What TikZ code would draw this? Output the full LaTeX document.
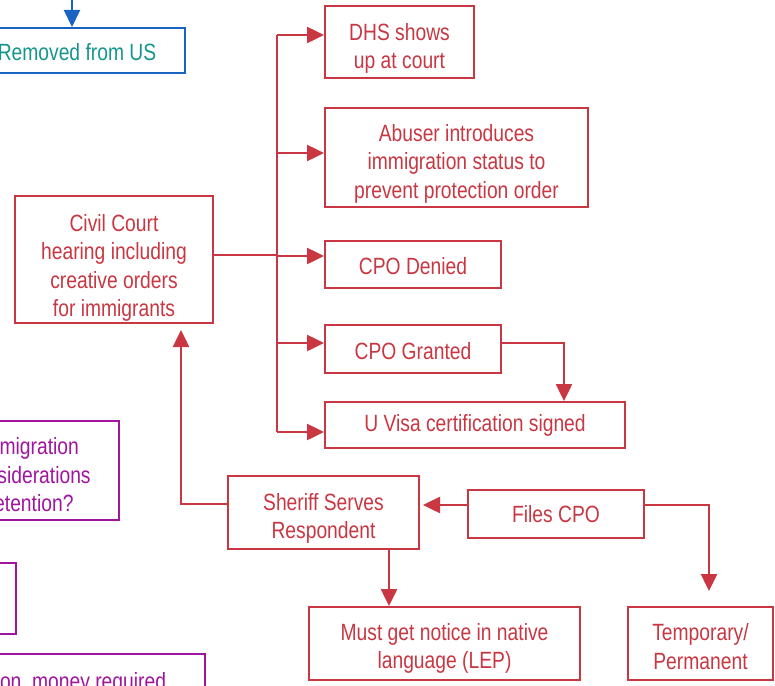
\documentclass[tikz,border=0pt]{standalone}
\usepackage{fontspec}
\setmainfont{Liberation Sans}[FakeStretch=0.82]
\usetikzlibrary{arrows.meta}

\definecolor{cpored}{RGB}{200,55,66}
\definecolor{detpurple}{RGB}{160,20,160}
\definecolor{usblue}{RGB}{25,100,195}
\definecolor{usteal}{RGB}{20,150,140}

\begin{document}
\begin{tikzpicture}[x=1pt,y=-1pt,->,>={Triangle[length=17pt,width=16pt]},line width=2.5pt,
  box/.style={draw,line width=2pt,inner sep=0pt,align=center,font=\fontsize{23.5}{28.5}\selectfont},
  lift/.style={execute at begin node={\rule{0pt}{#1}}},
  red box/.style={box,draw=cpored,text=cpored},
  purple box/.style={box,draw=detpurple,text=detpurple},
  blue box/.style={box,draw=usblue,text=usteal}]

  \useasboundingbox (0,0) rectangle (775,685);
  \clip (0,0) rectangle (775,685);

  % cut-off boxes on the left
  \node[blue box,lift=21pt,minimum width=216pt,minimum height=45pt] (removed) at (77,50.5) {Removed from US};
  \node[purple box,lift=82.8pt,minimum width=181pt,minimum height=99pt] (immig) at (28.5,470.5) {Immigration\\considerations\\detention?};
  \node[purple box,minimum width=192pt,minimum height=71pt] (hold) at (-80,598.5) {};
  \node[purple box,minimum width=305pt,minimum height=100pt,anchor=north] (cost) at (52.5,653) {};
  \node[text=detpurple,font=\fontsize{23.5}{28.5}\selectfont] (costtext) at (52.5,683) {Detention, money required};

  % court side
  \node[red box,lift=119.3pt,minimum width=198pt,minimum height=127pt] (civil) at (114,259.5) {Civil Court\\hearing including\\creative orders\\for immigrants};
  \node[red box,lift=58.3pt,minimum width=149pt,minimum height=72pt] (dhs) at (399.5,42) {DHS shows\\up at court};
  \node[red box,lift=86.8pt,minimum width=263pt,minimum height=99pt] (abuser) at (456.5,157.5) {Abuser introduces\\immigration status to\\prevent protection order};
  \node[red box,lift=21pt,minimum width=176pt,minimum height=47pt] (denied) at (413,264.5) {CPO Denied};
  \node[red box,lift=21pt,minimum width=176pt,minimum height=48pt] (granted) at (413,349) {CPO Granted};
  \node[red box,minimum width=300pt,minimum height=46pt] (uvisa) at (475,425) {U Visa certification signed};

  % filing side
  \node[red box,lift=57.3pt,minimum width=191pt,minimum height=73pt] (sheriff) at (323.5,512.5) {Sheriff Serves\\Respondent};
  \node[red box,minimum width=176pt,minimum height=48pt] (files) at (556,514) {Files CPO};
  \node[red box,lift=55.3pt,minimum width=271pt,minimum height=73pt] (notice) at (444.5,643.5) {Must get notice in native\\language (LEP)};
  \node[red box,lift=51.3pt,minimum width=145pt,minimum height=73pt] (temp) at (700.5,643.5) {Temporary/\\Permanent};

  \coordinate (in) at (72,0);
  \coordinate (bus) at (277,0);

  \draw[usblue,line width=2pt] (in) -- (in |- removed.north);

  \begin{scope}[cpored]
    \draw[-,line width=1.6pt] ([yshift=4.5pt]civil.east) -- ([yshift=4.5pt]civil.east -| bus);
    \draw[-] ([yshift=7pt]dhs.west -| bus) -- ([yshift=-7pt]uvisa.west -| bus);
    \foreach \n/\s in {dhs/7,abuser/4.5,denied/8.5,granted/6,uvisa/-7}
      \draw ([yshift=\s pt]\n.west -| bus) -- ([yshift=\s pt]\n.west);
    \draw ([yshift=6pt]granted.east) -| ([xshift=89pt]uvisa.north);
    \draw[shorten >=3pt] ([yshift=9pt]files.west) -- ([yshift=9pt]files.west -| sheriff.east);
    \draw[shorten >=15pt] ([yshift=9pt]files.east) -| ([xshift=8.5pt]temp.north);
    \draw ([xshift=65.5pt]sheriff.south) -- ([xshift=65.5pt]sheriff.south |- notice.north);
    \draw[shorten >=6pt] ([yshift=8.5pt]sheriff.west) -| ([xshift=67pt]civil.south);
  \end{scope}
\end{tikzpicture}
\end{document}
